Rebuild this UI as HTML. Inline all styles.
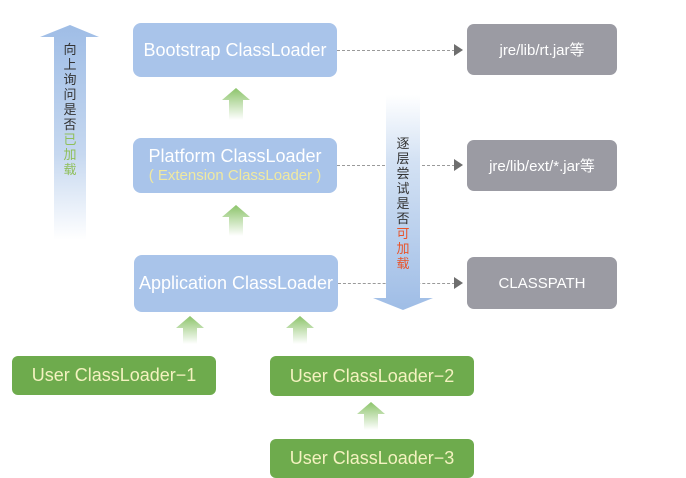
<!DOCTYPE html>
<html><head><meta charset="utf-8"><style>
body{margin:0;width:686px;height:478px;background:#fff;position:relative;overflow:hidden;font-family:"Liberation Sans","Noto Sans CJK SC",sans-serif}
.b{position:absolute;border-radius:8px;color:#fff;text-align:center;display:flex;flex-direction:column;justify-content:center;align-items:center}
.blue{background:#a9c4ea;font-size:18px}
.gray{background:#9b9ba3;font-size:15px;border-radius:7px}
.green{background:#6eab4d;font-size:18px;color:#f4f2c0;border-radius:6px}
.dl{position:absolute;height:0;border-top:1px dashed #9a9a9a}
.ah{position:absolute;width:0;height:0;border-top:6px solid transparent;border-bottom:6px solid transparent;border-left:9px solid #6e6e6e}
.vt{position:absolute;font-size:13px;line-height:15px;width:20px;text-align:center;color:#333}
</style></head><body>
<div class="dl" style="left:337px;top:50px;width:118px"></div><div class="ah" style="left:454px;top:44px"></div>
<div class="dl" style="left:337px;top:165px;width:118px"></div><div class="ah" style="left:454px;top:159px"></div>
<div class="dl" style="left:338px;top:283px;width:117px"></div><div class="ah" style="left:454px;top:277px"></div>
<svg style="position:absolute;left:0;top:0" width="686" height="478">
<defs>
<linearGradient id="gu" x1="0" y1="0" x2="0" y2="1"><stop offset="0" stop-color="#9fbde6"/><stop offset="0.6" stop-color="#c6d8f0"/><stop offset="1" stop-color="#ffffff"/></linearGradient>
<linearGradient id="gd" x1="0" y1="0" x2="0" y2="1"><stop offset="0" stop-color="#ffffff"/><stop offset="0.3" stop-color="#d4e2f4"/><stop offset="1" stop-color="#9fbde6"/></linearGradient>
<linearGradient id="gg" x1="0" y1="0" x2="0" y2="1"><stop offset="0" stop-color="#8cc46a"/><stop offset="1" stop-color="#ffffff"/></linearGradient>
</defs>
<polygon points="70,25 99,37 86,37 86,240 54,240 54,37 40,37" fill="url(#gu)"/>
<polygon points="386,95 420,95 420,298 433,298 403,310 373,298 386,298" fill="url(#gd)"/>
<g fill="url(#gg)">
<polygon points="236,88 250,100 243,100 243,120 229,120 229,100 222,100"/>
<polygon points="236,205 250,217 243,217 243,236 229,236 229,217 222,217"/>
<polygon points="190,316 204,328 197,328 197,344 183,344 183,328 176,328"/>
<polygon points="300,316 314,328 307,328 307,344 293,344 293,328 286,328"/>
<polygon points="371,402 385,414 378,414 378,430 364,430 364,414 357,414"/>
</g>
</svg>
<div class="vt" style="left:60px;top:42px">向<br>上<br>询<br>问<br>是<br>否<br><span style="color:#8fbf5a">已<br>加<br>载</span></div>
<div class="vt" style="left:393px;top:136px">逐<br>层<br>尝<br>试<br>是<br>否<br><span style="color:#e8542a">可<br>加<br>载</span></div>

<div class="b blue" style="left:133px;top:23px;width:204px;height:54px">Bootstrap ClassLoader</div>
<div class="b blue" style="left:133px;top:138px;width:204px;height:55px;line-height:19px">Platform ClassLoader<span style="color:#f0e9a0;font-size:15px">( Extension ClassLoader )</span></div>
<div class="b blue" style="left:134px;top:255px;width:204px;height:57px">Application ClassLoader</div>

<div class="b gray" style="left:467px;top:24px;width:150px;height:51px">jre/lib/rt.jar等</div>
<div class="b gray" style="left:467px;top:140px;width:150px;height:51px">jre/lib/ext/*.jar等</div>
<div class="b gray" style="left:467px;top:257px;width:150px;height:52px">CLASSPATH</div>

<div class="b green" style="left:12px;top:356px;width:204px;height:39px">User ClassLoader−1</div>
<div class="b green" style="left:270px;top:356px;width:204px;height:40px">User ClassLoader−2</div>
<div class="b green" style="left:270px;top:439px;width:204px;height:39px">User ClassLoader−3</div>
</body></html>
